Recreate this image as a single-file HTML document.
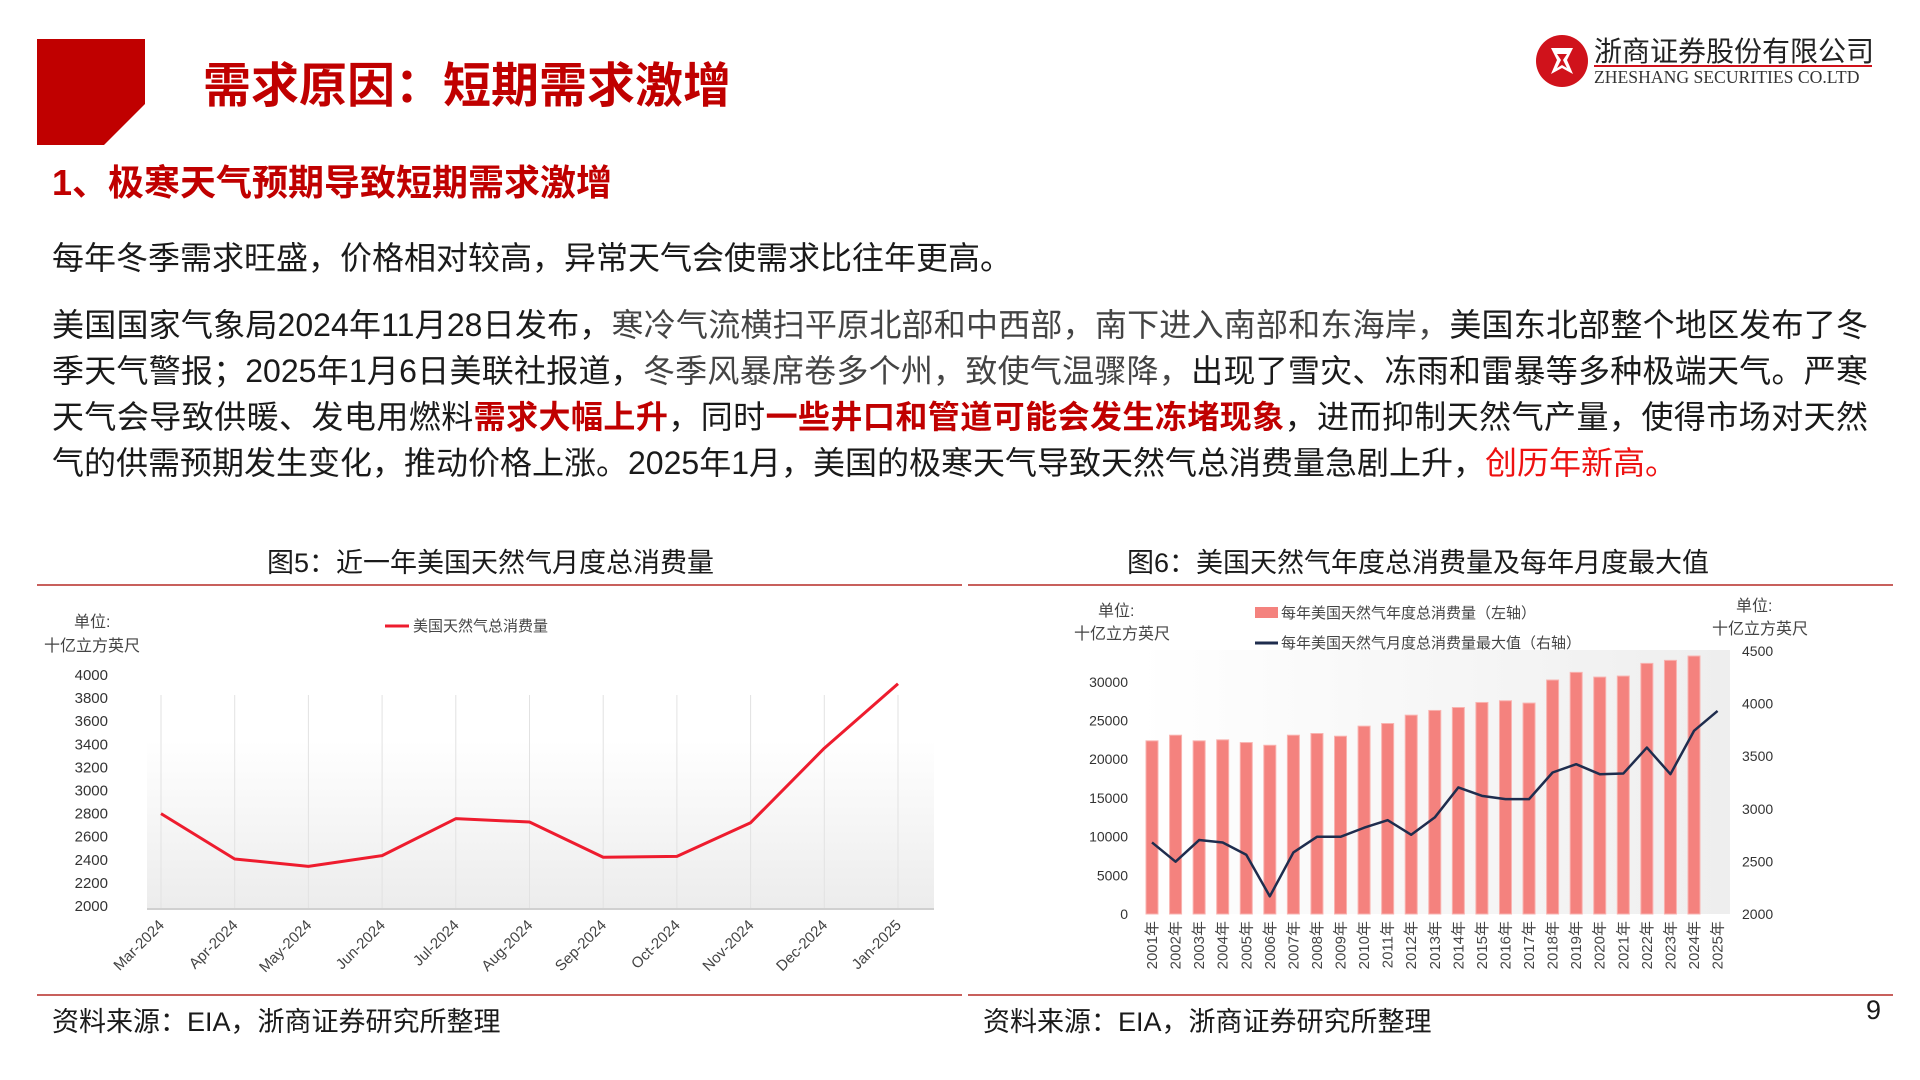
<!DOCTYPE html>
<html><head><meta charset="utf-8">
<style>
html,body{margin:0;padding:0;background:#fff;}
body{width:1920px;height:1080px;position:relative;overflow:hidden;font-family:"Liberation Sans","Noto Sans CJK SC",sans-serif;color:#1a1a1a;}
.abs{position:absolute;white-space:nowrap;}
.line{position:absolute;left:52px;width:1816px;font-size:32px;text-align:justify;text-align-last:justify;white-space:nowrap;line-height:40px;}
.g{color:#444;}
.rb{color:#c00000;font-weight:bold;}
.rr{color:#ee1111;}
</style></head><body>
<svg class="abs" style="left:0;top:0" width="200" height="160"><polygon points="37,39 145,39 145,104 104,145 37,145" fill="#c00000"/></svg>
<div class="abs" style="left:203px;top:46px;font-size:48px;font-weight:bold;color:#c00000;">需求原因：短期需求激增</div>
<svg class="abs" style="left:1534px;top:30px" width="70" height="64"><circle cx="28" cy="31" r="26" fill="#d0121b"/><path d="M17 18 L39 18 L33 30 L39 44 L28 38 L17 44 L23 30 Z" fill="#fff"/><path d="M23 24 L33 24 L29 30 L33 38 L28 35 L23 38 L27 30 Z" fill="#d0121b"/></svg>
<div class="abs" style="left:1594px;top:30px;font-size:28px;color:#222;">浙商证券股份有限公司</div>
<div class="abs" style="left:1594px;top:65px;width:278px;height:2px;background:#d0121b;"></div>
<div class="abs" style="left:1594px;top:67px;font-size:18px;font-family:'Liberation Serif',serif;color:#333;transform:scaleX(0.98);transform-origin:left;">ZHESHANG SECURITIES CO.LTD</div>

<div class="abs" style="left:52px;top:154px;font-size:36px;font-weight:bold;color:#c00000;">1、极寒天气预期导致短期需求激增</div>
<div class="abs" style="left:52px;top:233px;font-size:32px;">每年冬季需求旺盛，价格相对较高，异常天气会使需求比往年更高。</div>
<div>
<div class="line" style="top:305px;">美国国家气象局2024年11月28日发布，<span class="g">寒冷气流横扫平原北部和中西部，南下进入南部和东海岸，</span>美国东北部整个地区发布了冬</div>
<div class="line" style="top:351px;">季天气警报；2025年1月6日美联社报道，<span class="g">冬季风暴席卷多个州，致使气温骤降，</span>出现了雪灾、冻雨和雷暴等多种极端天气。严寒</div>
<div class="line" style="top:397px;">天气会导致供暖、发电用燃料<span class="rb">需求大幅上升</span>，同时<span class="rb">一些井口和管道可能会发生冻堵现象</span>，进而抑制天然气产量，使得市场对天然</div>
<div class="line" style="top:443px;text-align-last:left;">气的供需预期发生变化，推动价格上涨。2025年1月，美国的极寒天气导致天然气总消费量急剧上升，<span class="rr">创历年新高。</span></div>
</div>

<div class="abs" style="left:267px;top:541px;font-size:27px;">图5：近一年美国天然气月度总消费量</div>
<div class="abs" style="left:1127px;top:541px;font-size:27px;">图6：美国天然气年度总消费量及每年月度最大值</div>
<div class="abs" style="left:37px;top:584px;width:925px;height:2px;background:#c8605c;"></div>
<div class="abs" style="left:968px;top:584px;width:925px;height:2px;background:#c8605c;"></div>
<div class="abs" style="left:37px;top:994px;width:925px;height:2px;background:#c8605c;"></div>
<div class="abs" style="left:968px;top:994px;width:925px;height:2px;background:#c8605c;"></div>
<div class="abs" style="left:52px;top:1000px;font-size:27px;">资料来源：EIA，浙商证券研究所整理</div>
<div class="abs" style="left:983px;top:1000px;font-size:27px;">资料来源：EIA，浙商证券研究所整理</div>
<div class="abs" style="left:1866px;top:995px;font-size:27px;">9</div>

<svg id="c1" class="abs" style="left:0;top:0" width="960" height="1000"></svg>
<svg id="c2" class="abs" style="left:0;top:0" width="1920" height="1000"></svg>

<script>
const months = ["Mar-2024","Apr-2024","May-2024","Jun-2024","Jul-2024","Aug-2024","Sep-2024","Oct-2024","Nov-2024","Dec-2024","Jan-2025"];
const monthlyValues = [2800,2407,2343,2436,2756,2727,2422,2430,2721,3366,3924];
const c1Ticks = [2000,2200,2400,2600,2800,3000,3200,3400,3600,3800,4000];

const years = ["2001年","2002年","2003年","2004年","2005年","2006年","2007年","2008年","2009年","2010年","2011年","2012年","2013年","2014年","2015年","2016年","2017年","2018年","2019年","2020年","2021年","2022年","2023年","2024年","2025年"];
const annualValues = [22370,23100,22370,22500,22150,21800,23100,23320,22970,24270,24610,25690,26300,26680,27330,27550,27250,30230,31220,30610,30740,32380,32770,33330,null];
const monthlyMaxValues = [2680,2497,2703,2680,2563,2168,2585,2734,2734,2820,2892,2753,2918,3203,3123,3092,3092,3345,3424,3329,3335,3582,3329,3741,3930];
const leftTicks = [0,5000,10000,15000,20000,25000,30000];
const rightTicks = [2000,2500,3000,3500,4000,4500];

const NS = "http://www.w3.org/2000/svg";
function mk(svg, tag, attrs, text){const e=document.createElementNS(NS,tag);for(const k in attrs)e.setAttribute(k,attrs[k]);if(text!==undefined)e.textContent=text;svg.appendChild(e);return e;}
const F = '"Liberation Sans","Noto Sans CJK SC",sans-serif';

// Chart 1
(function(){
  const s=document.getElementById('c1');
  const x0=161,x1=898,yTop=675,yBot=906;
  const xs=i=>x0+i*(x1-x0)/(months.length-1);
  const ys=v=>yBot-(v-2000)/2000*(yBot-yTop);
  const defs=mk(s,'defs',{});
  const lg=mk(defs,'linearGradient',{id:'g1',x1:0,y1:0,x2:0,y2:1});
  mk(lg,'stop',{offset:'0',"stop-color":'#ffffff'});
  mk(lg,'stop',{offset:'1',"stop-color":'#ececec'});
  let e=mk(s,'rect',{x:147,y:740,width:787,height:169,fill:'url(#g1)'});
  
  
  months.forEach((m,i)=>{
    const g=mk(s,'line',{x1:xs(i),x2:xs(i),y1:yTop+20,y2:909,stroke:'#e2e2e2','stroke-width':1});
    
    
    const x=xs(i);
    const t=mk(s,'text',{x:x+4,y:926,'font-size':15,'font-family':F,fill:'#444','text-anchor':'end',transform:`rotate(-45 ${x+4} 926)`},m);
    
    
  });
  e=mk(s,'line',{x1:147,x2:934,y1:909,y2:909,stroke:'#d0d0d0','stroke-width':2});
  
  
  c1Ticks.forEach(v=>{
    const t=mk(s,'text',{x:108,y:ys(v)+5,'font-size':15,'font-family':F,fill:'#333','text-anchor':'end'},String(v));
    
    
  });
  e=mk(s,'text',{x:74,y:627,'font-size':16,'font-family':F,fill:'#444'},'单位:');
  
  
  e=mk(s,'text',{x:44,y:651,'font-size':16,'font-family':F,fill:'#444'},'十亿立方英尺');
  
  
  e=mk(s,'line',{x1:385,x2:409,y1:626,y2:626,stroke:'#ee1c2e','stroke-width':3});
  
  
  e=mk(s,'text',{x:413,y:631,'font-size':15,'font-family':F,fill:'#444'},'美国天然气总消费量');
  
  
  const pts=monthlyValues.map((v,i)=>xs(i)+','+ys(v)).join(' ');
  e=mk(s,'polyline',{points:pts,fill:'none',stroke:'#ee1c2e','stroke-width':3,'stroke-linejoin':'round'});
  
  
})();

// Chart 2
(function(){
  const s=document.getElementById('c2');
  const x0=1152,step=(1694-1152)/23,yBot=914;
  const xs=i=>x0+i*step;
  const yl=v=>yBot-v/5000*38.7;
  const yr=v=>yBot-(v-2000)/500*52.6;
  const defs=mk(s,'defs',{});
  const lg=mk(defs,'linearGradient',{id:'g2',x1:0,y1:0,x2:1,y2:0});
  mk(lg,'stop',{offset:'0',"stop-color":'#ffffff'});
  mk(lg,'stop',{offset:'1',"stop-color":'#eeeeee'});
  let e=mk(s,'rect',{x:1140,y:650,width:590,height:264,fill:'url(#g2)'});
  
  
  annualValues.forEach((v,i)=>{
    if(v===null)return;
    const b=mk(s,'rect',{x:xs(i)-6,y:yl(v),width:12,height:yBot-yl(v),fill:'#f4827e',stroke:'#f9b3b0','stroke-width':1});
    
    
  });
  years.forEach((y,i)=>{
    const x=xs(i)+5;
    const t=mk(s,'text',{x:x,y:921,'font-size':15,'font-family':F,fill:'#444','text-anchor':'end',transform:`rotate(-90 ${x} 921)`},y);
    
    
  });
  leftTicks.forEach(v=>{
    const t=mk(s,'text',{x:1128,y:yl(v)+5,'font-size':14,'font-family':F,fill:'#333','text-anchor':'end'},String(v));
    
    
  });
  rightTicks.forEach(v=>{
    const t=mk(s,'text',{x:1742,y:yr(v)+5,'font-size':14,'font-family':F,fill:'#333'},String(v));
    
    
  });
  const pts=monthlyMaxValues.map((v,i)=>xs(i)+','+yr(v)).join(' ');
  e=mk(s,'polyline',{points:pts,fill:'none',stroke:'#1f2d4e','stroke-width':2.5,'stroke-linejoin':'round'});
  
  
  e=mk(s,'text',{x:1098,y:616,'font-size':16,'font-family':F,fill:'#444'},'单位:');
  
  
  e=mk(s,'text',{x:1074,y:639,'font-size':16,'font-family':F,fill:'#444'},'十亿立方英尺');
  
  
  e=mk(s,'text',{x:1736,y:611,'font-size':16,'font-family':F,fill:'#444'},'单位:');
  
  
  e=mk(s,'text',{x:1712,y:634,'font-size':16,'font-family':F,fill:'#444'},'十亿立方英尺');
  
  
  e=mk(s,'rect',{x:1255,y:607,width:23,height:11,fill:'#f4827e'});
  
  
  e=mk(s,'text',{x:1281,y:618,'font-size':15,'font-family':F,fill:'#444'},'每年美国天然气年度总消费量（左轴）');
  
  
  e=mk(s,'line',{x1:1255,x2:1278,y1:643,y2:643,stroke:'#1f2d4e','stroke-width':3});
  
  
  e=mk(s,'text',{x:1281,y:648,'font-size':15,'font-family':F,fill:'#444'},'每年美国天然气月度总消费量最大值（右轴）');
  
  
})();
</script>
</body></html>
